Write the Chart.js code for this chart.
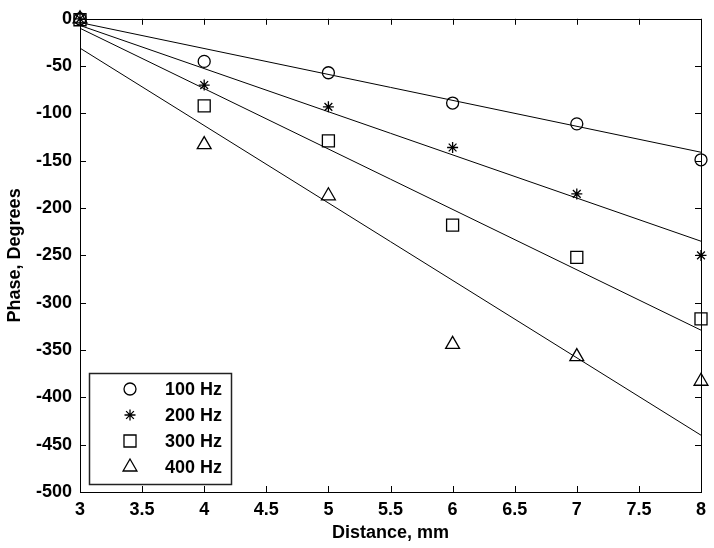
<!DOCTYPE html>
<html>
<head>
<meta charset="utf-8">
<script src="https://cdn.jsdelivr.net/npm/chart.js@4/dist/chart.umd.min.js"></script>
<style>
    html,body{margin:0;padding:0;background:#fff;}
    #wrap{width:714px;height:548px;}
</style>
</head>
<body>
<div id="wrap"><canvas id="phaseChart" width="714" height="548"></canvas></div>
<script>
// measured points
const distance=[3,4,5,6,7,8];
const phase100=[0,-45,-57,-89,-111,-149];
const phase200=[0,-70,-93,-136,-185,-250];
const phase300=[-1,-92,-129,-218,-252,-317];
const phase400=[0,-133,-187,-344,-357,-383];

// fitted lines, end points
const fitDistance=[3,8];
const fit100=[-4,-141];
const fit200=[-7,-235];
const fit300=[-10,-329];
const fit400=[-31,-440];

const seriesLabels=["100 Hz","200 Hz","300 Hz","400 Hz"];
const xTickValues=[3,3.5,4,4.5,5,5.5,6,6.5,7,7.5,8];
const yTickValues=[0,-50,-100,-150,-200,-250,-300,-350,-400,-450,-500];

function toPoints(xs,ys){
    let pts=[];
    for(let i=0;i<xs.length;i++){
        pts.push({x:xs[i],y:ys[i]});
    }
    return pts;
}

function markerSet(label,values,style,radius){
    return {
        label:label,
        data:toPoints(distance,values),
        showLine:false,
        pointStyle:style,
        pointRadius:radius,
        pointHoverRadius:radius,
        pointBorderColor:"#000",
        pointBackgroundColor:"rgba(0,0,0,0)",
        pointBorderWidth:1.3,
        clip:false
    };
}

function fitSet(values){
    return {
        label:"fit",
        data:toPoints(fitDistance,values),
        showLine:true,
        borderColor:"#000",
        borderWidth:1,
        pointRadius:0,
        fill:false,
        isFit:true
    };
}

/*box round the plot, ticks drawn inside*/
const boxPlugin={
    id:"boxPlugin",
    afterDraw(chart){
        let ctx=chart.ctx;
        let a=chart.chartArea;
        let xs=chart.scales.x;
        let ys=chart.scales.y;
        let t=6;
        ctx.save();
        ctx.strokeStyle="#000";
        ctx.lineWidth=1;
        ctx.strokeRect(Math.round(a.left)+0.5,Math.round(a.top)+0.5,Math.round(a.right-a.left),Math.round(a.bottom-a.top));
        ctx.beginPath();
        for(let v of xTickValues){
            let px=Math.round(xs.getPixelForValue(v))+0.5;
            ctx.moveTo(px,a.bottom);ctx.lineTo(px,a.bottom-t);
            ctx.moveTo(px,a.top);ctx.lineTo(px,a.top+t);
        }
        for(let v of yTickValues){
            let py=Math.round(ys.getPixelForValue(v))+0.5;
            ctx.moveTo(a.left,py);ctx.lineTo(a.left+t,py);
            ctx.moveTo(a.right,py);ctx.lineTo(a.right-t,py);
        }
        ctx.stroke();
        ctx.restore();
    }
};

/*legend box inside the lower left corner*/
const insideLegend={
    id:"insideLegend",
    afterDraw(chart){
        let ctx=chart.ctx;
        let a=chart.chartArea;
        let left=a.left+9, bottom=a.bottom-8;
        let w=142, h=111;
        let top=bottom-h;
        ctx.save();
        ctx.fillStyle="#fff";
        ctx.fillRect(left,top,w,h);
        ctx.strokeStyle="#222";
        ctx.lineWidth=1.5;
        ctx.strokeRect(left+0.5,top+0.5,w,h);
        ctx.font="bold 18px 'Liberation Sans', Arial, sans-serif";
        ctx.fillStyle="#000";
        ctx.textBaseline="middle";
        let row=0;
        chart.data.datasets.forEach(function(ds){
            if(ds.isFit) return;
            let cy=top+16+row*26;
            if(Chart.helpers && Chart.helpers.drawPoint){
                ctx.strokeStyle="#000";
                ctx.lineWidth=1.3;
                ctx.fillStyle="rgba(0,0,0,0)";
                Chart.helpers.drawPoint(ctx,{pointStyle:ds.pointStyle,radius:ds.pointRadius,rotation:0,borderWidth:1.3},left+41,cy);
            }
            ctx.fillStyle="#000";
            ctx.fillText(ds.label,left+76,cy+1);
            row++;
        });
        ctx.restore();
    }
};

Chart.defaults.font.family="'Liberation Sans', Arial, sans-serif";
Chart.defaults.color="#000";

function makeGraph(){
    let canvas=document.getElementById("phaseChart").getContext("2d");

    let datasets=[
        markerSet(seriesLabels[0],phase100,"circle",6),
        markerSet(seriesLabels[1],phase200,"star",5.5),
        markerSet(seriesLabels[2],phase300,"rect",8.5),
        markerSet(seriesLabels[3],phase400,"triangle",8),
        fitSet(fit100),
        fitSet(fit200),
        fitSet(fit300),
        fitSet(fit400)
    ];

    new Chart(canvas,{
        type:"scatter",
        data:{datasets:datasets},
        plugins:[boxPlugin,insideLegend],
        options:{
            responsive:false,
            animation:false,
            events:[],
            layout:{padding:{top:13,right:13,left:0,bottom:0}},
            plugins:{legend:{display:false},tooltip:{enabled:false}},
            scales:{
                x:{
                    type:"linear",
                    min:3,max:8,
                    afterBuildTicks:function(scale){
                        scale.ticks=xTickValues.map(function(v){return {value:v};});
                    },
                    afterFit:function(scale){scale.height=56;},
                    grid:{display:false,drawTicks:false},
                    border:{display:false},
                    ticks:{
                        autoSkip:false,
                        maxRotation:0,
                        padding:7,
                        color:"#000",
                        font:{size:18,weight:"bold"},
                        callback:function(v){return String(v);}
                    },
                    title:{
                        display:true,
                        text:"Distance, mm",
                        color:"#000",
                        font:{size:18,weight:"bold"},
                        padding:{top:0,bottom:4}
                    }
                },
                y:{
                    type:"linear",
                    min:-500,max:0,
                    afterBuildTicks:function(scale){
                        scale.ticks=yTickValues.map(function(v){return {value:v};});
                    },
                    afterFit:function(scale){scale.width=80;},
                    grid:{display:false,drawTicks:false},
                    border:{display:false},
                    ticks:{
                        autoSkip:false,
                        padding:8,
                        color:"#000",
                        font:{size:18,weight:"bold"},
                        callback:function(v){return String(v);}
                    },
                    title:{
                        display:true,
                        text:"Phase, Degrees",
                        color:"#000",
                        font:{size:18,weight:"bold"},
                        padding:{top:4,bottom:0}
                    }
                }
            }
        }
    });
}

makeGraph();
</script>
</body>
</html>
